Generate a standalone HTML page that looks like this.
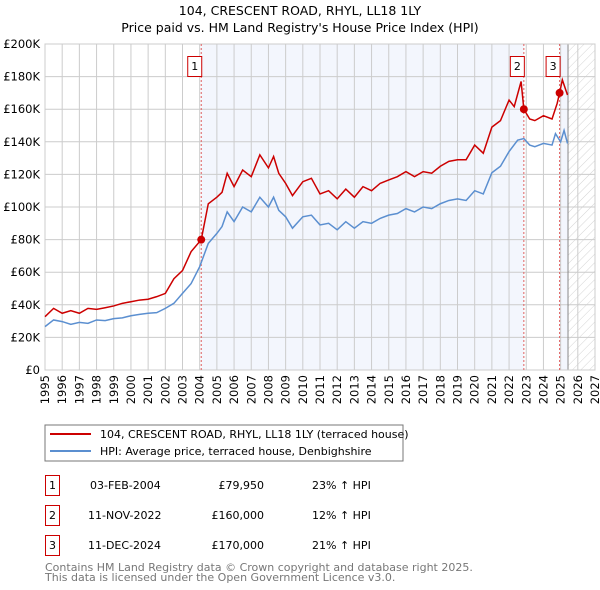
<!DOCTYPE html>
<html><head><meta charset="utf-8"><style>
body{margin:0;background:#fff;font-family:"DejaVu Sans","Liberation Sans",sans-serif;}
svg{display:block}
</style></head><body>
<svg width="600" height="590" viewBox="0 0 600 590" xmlns="http://www.w3.org/2000/svg" font-family="DejaVu Sans, Liberation Sans, sans-serif">
<defs>
<pattern id="hatch" width="6" height="6" patternUnits="userSpaceOnUse" patternTransform="rotate(45)">
<line x1="0" y1="0" x2="0" y2="6" stroke="#d4d4d4" stroke-width="1"/>
</pattern>
</defs>
<text x="300" y="15" text-anchor="middle" font-size="12.5" fill="#000">104, CRESCENT ROAD, RHYL, LL18 1LY</text>
<text x="300" y="32" text-anchor="middle" font-size="12.5" fill="#000">Price paid vs. HM Land Registry's House Price Index (HPI)</text>
<g id="plot"></g>
<g>
<rect x="45" y="425" width="358" height="36" fill="#fff" stroke="#777"/>
<line x1="50" y1="434" x2="91" y2="434" stroke="#cc0000" stroke-width="2"/>
<text x="100" y="438" font-size="11">104, CRESCENT ROAD, RHYL, LL18 1LY (terraced house)</text>
<line x1="50" y1="451" x2="91" y2="451" stroke="#5b8fd0" stroke-width="2"/>
<text x="100" y="455" font-size="11">HPI: Average price, terraced house, Denbighshire</text>
</g>
<g font-size="11">
<rect x="45.5" y="475.5" width="14" height="20" fill="none" stroke="#cc0000"/>
<text x="52.5" y="489" text-anchor="middle">1</text>
<text x="90" y="489">03-FEB-2004</text><text x="264" y="489" text-anchor="end">£79,950</text><text x="312" y="489">23% ↑ HPI</text>
<rect x="45.5" y="505.5" width="14" height="20" fill="none" stroke="#cc0000"/>
<text x="52.5" y="519" text-anchor="middle">2</text>
<text x="88" y="519">11-NOV-2022</text><text x="264" y="519" text-anchor="end">£160,000</text><text x="312" y="519">12% ↑ HPI</text>
<rect x="45.5" y="535.5" width="14" height="20" fill="none" stroke="#cc0000"/>
<text x="52.5" y="549" text-anchor="middle">3</text>
<text x="88" y="549">11-DEC-2024</text><text x="264" y="549" text-anchor="end">£170,000</text><text x="312" y="549">21% ↑ HPI</text>
</g>
<text x="45" y="571" font-size="11" fill="#777">Contains HM Land Registry data © Crown copyright and database right 2025.</text>
<text x="45" y="581" font-size="11" fill="#777">This data is licensed under the Open Government Licence v3.0.</text>
</svg>
<script>
const yTicks=[0,20000,40000,60000,80000,100000,120000,140000,160000,180000,200000];
const yTickLabels=["£0","£20K","£40K","£60K","£80K","£100K","£120K","£140K","£160K","£180K","£200K"];
const xYears=[1995,1996,1997,1998,1999,2000,2001,2002,2003,2004,2005,2006,2007,2008,2009,2010,2011,2012,2013,2014,2015,2016,2017,2018,2019,2020,2021,2022,2023,2024,2025,2026,2027];
const hpiDates=[1995,1995.5,1996,1996.5,1997,1997.5,1998,1998.5,1999,1999.5,2000,2000.5,2001,2001.5,2002,2002.5,2003,2003.5,2004,2004.5,2005,2005.3,2005.6,2006,2006.5,2007,2007.5,2008,2008.3,2008.6,2009,2009.4,2010,2010.5,2011,2011.5,2012,2012.5,2013,2013.5,2014,2014.5,2015,2015.5,2016,2016.5,2017,2017.5,2018,2018.5,2019,2019.5,2020,2020.5,2021,2021.5,2022,2022.5,2022.86,2023.2,2023.5,2024,2024.5,2024.7,2025,2025.2,2025.4];
const hpiValues=[26600,30700,29700,28000,29200,28600,30700,30300,31500,32000,33300,34100,34800,35200,37800,40900,47000,53000,63400,77700,83800,88000,97000,91000,100000,97000,106000,100000,106000,98000,94000,87000,94000,95000,89000,90000,86000,91000,87000,91000,90000,93000,95000,96000,99000,97000,100000,99000,102000,104000,105000,104000,110000,108000,121000,125000,134000,141000,142000,138000,137000,139000,138000,145000,140000,147000,139000];
const priceDates=[1995,1995.5,1996,1996.5,1997,1997.5,1998,1998.5,1999,1999.5,2000,2000.5,2001,2001.5,2002,2002.5,2003,2003.5,2004.09,2004.5,2005,2005.3,2005.6,2006,2006.5,2007,2007.5,2008,2008.3,2008.6,2009,2009.4,2010,2010.5,2011,2011.5,2012,2012.5,2013,2013.5,2014,2014.5,2015,2015.5,2016,2016.5,2017,2017.5,2018,2018.5,2019,2019.5,2020,2020.5,2021,2021.5,2022,2022.3,2022.7,2022.86,2023.2,2023.5,2024,2024.5,2024.8,2024.94,2025.1,2025.4];
const priceValues=[32700,37800,34800,36400,34800,37800,37200,38200,39300,40900,41900,42900,43400,45000,47000,56000,61000,72600,79950,102000,106000,109000,120700,112500,122700,118600,132000,124000,131000,120700,114500,107000,115500,117600,108000,110000,105000,111000,106000,112500,110000,114500,116600,118600,121700,118600,121700,120700,125000,128000,129000,129000,138000,133000,149000,153000,165600,161600,177000,160000,154000,153000,156000,154000,163600,170000,178000,168700];
const saleDates=[2004.09,2022.86,2024.94];
const salePrices=[79950,160000,170000];
const saleLabels=["1","2","3"];
const shadeRanges=[[2004.09,2022.86],[2024.94,2025.43]];
const dataEnd=2025.43;

const L=45,R=595,T=44,B=370;
const x=d=>L+(d-1995)/(2027-1995)*(R-L);
const y=v=>B-v/200000*(B-T);
const NS="http://www.w3.org/2000/svg";
const g=document.getElementById('plot');
function mk(tag,attrs,parent){const e=document.createElementNS(NS,tag);for(const k in attrs)e.setAttribute(k,attrs[k]);(parent||g).appendChild(e);return e;}

shadeRanges.forEach((r,i)=>{
 const e=mk('rect',{x:x(r[0]),y:T,width:x(r[1])-x(r[0]),height:B-T,fill:'#f3f6fd'});
 
 
});
const h=mk('rect',{x:x(dataEnd),y:T,width:R-x(dataEnd),height:B-T,fill:'url(#hatch)'});



yTicks.forEach((v,i)=>{
 const l=mk('line',{x1:L,x2:R,y1:y(v),y2:y(v),stroke:'#ccc','stroke-width':1});
 
 
 const t=mk('text',{x:L-5,y:y(v)+4,'text-anchor':'end','font-size':11.5,fill:'#000'});
 t.textContent=yTickLabels[i];
 
 
});
xYears.forEach(yr=>{
 const l=mk('line',{x1:x(yr),x2:x(yr),y1:T,y2:B,stroke:'#ccc','stroke-width':1});
 
 
 const t=mk('text',{x:0,y:0,'text-anchor':'end','font-size':11.5,fill:'#000',transform:`translate(${x(yr)+4},${B+5}) rotate(-90)`});
 t.textContent=yr;
 
 
});
const el=mk('line',{x1:x(dataEnd),x2:x(dataEnd),y1:T,y2:B,stroke:'#888','stroke-width':1});


const fr=mk('rect',{x:L,y:T,width:R-L,height:B-T,fill:'none',stroke:'#ccc'});



saleDates.forEach((d,i)=>{
 const l=mk('line',{x1:x(d),x2:x(d),y1:T,y2:B,stroke:'#e06060','stroke-width':1,'stroke-dasharray':'2,2'});
 
 
});

const hp=mk('polyline',{points:hpiDates.map((d,i)=>x(d)+','+y(hpiValues[i])).join(' '),fill:'none',stroke:'#5b8fd0','stroke-width':1.5});


const pp=mk('polyline',{points:priceDates.map((d,i)=>x(d)+','+y(priceValues[i])).join(' '),fill:'none',stroke:'#cc0000','stroke-width':1.5});



saleDates.forEach((d,i)=>{
 const c=mk('circle',{cx:x(d),cy:y(salePrices[i]),r:4,fill:'#cc0000'});
 
 
 const b=mk('rect',{x:x(d)-13.5,y:56.5,width:14,height:20,fill:'#fff',stroke:'#cc0000'});
 
 
 const t=mk('text',{x:x(d)-6.5,y:70,'text-anchor':'middle','font-size':11});
 t.textContent=saleLabels[i];
 
 
});
</script>
</body></html>
